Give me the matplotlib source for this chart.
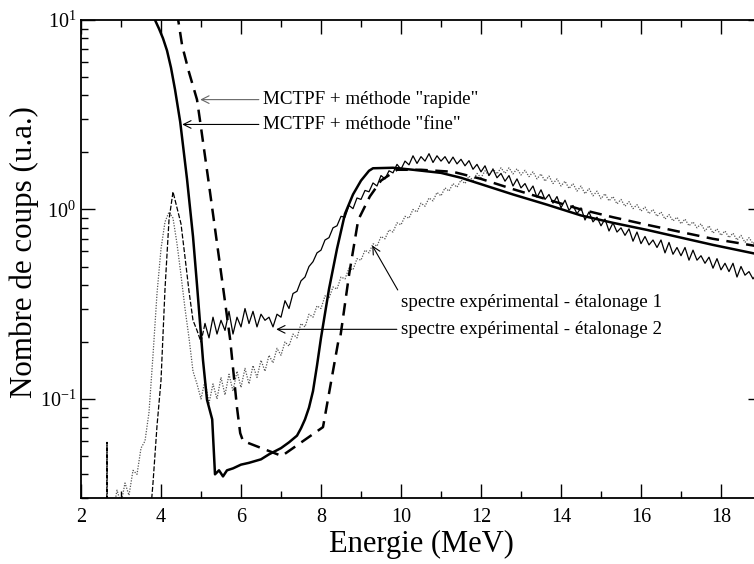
import numpy as np
import matplotlib
matplotlib.use("Agg")
import matplotlib.pyplot as plt

plt.rcParams['font.family'] = ['Liberation Serif', 'DejaVu Serif']
plt.rcParams['mathtext.fontset'] = 'stix'

# ---- data ----
fine_x = [3.80, 3.85, 3.95, 4.05, 4.15, 4.25, 4.35, 4.48, 4.65, 4.8, 4.9, 5.05, 5.15, 5.28, 5.35,
          5.45, 5.55, 5.65, 5.8, 6.0, 6.2, 6.5, 6.7, 7.0, 7.2, 7.4, 7.5, 7.6, 7.7, 7.8, 7.9, 8.0,
          8.2, 8.4, 8.6, 8.8, 9.0, 9.2, 9.3, 9.8, 10.3, 11.0, 11.5, 12.0, 12.8, 13.65, 14.5, 15.3,
          16.15, 17.0, 17.8, 19.1]
fine_y = [11.0, 10.0, 9.0, 8.0, 6.9, 5.6, 4.3, 2.9, 1.45, 0.72, 0.40, 0.16, 0.099, 0.078, 0.040,
          0.042, 0.039, 0.042, 0.043, 0.045, 0.046, 0.048, 0.051, 0.055, 0.059, 0.064, 0.070,
          0.078, 0.090, 0.11, 0.15, 0.21, 0.38, 0.62, 0.95, 1.2, 1.42, 1.6, 1.65, 1.66, 1.62,
          1.56, 1.47, 1.36, 1.2, 1.06, 0.93, 0.85, 0.78, 0.71, 0.65, 0.57]

rapide_x = [4.40, 4.43, 4.53, 4.7, 4.9, 4.98, 5.18, 5.55, 5.73, 5.9, 5.98, 6.05, 7.02, 8.05, 8.43,
            8.48, 8.7, 8.93, 9.22, 9.5, 9.9, 10.5, 11.3, 12.0, 12.8, 13.65, 14.5, 15.3, 16.15,
            17.0, 17.8, 19.1]
rapide_y = [11.0, 10.0, 7.3, 5.3, 3.8, 2.9, 1.45, 0.39, 0.205, 0.09, 0.066, 0.060, 0.050, 0.071,
            0.20, 0.21, 0.45, 0.88, 1.17, 1.42, 1.62, 1.62, 1.58, 1.45, 1.28, 1.13, 1.0, 0.91,
            0.83, 0.76, 0.70, 0.63]

# experimental spectrum, calibration 2 (black) - low energy part then 0.1 MeV channels
exp2_low_x = [2.60, 2.645, 2.65, 2.655, 2.70, 3.0, 3.3, 3.6]
exp2_low_y = [0.02, 0.02, 0.059, 0.02, 0.02, 0.02, 0.02, 0.02]
exp2_start, exp2_step = 3.7, 0.1
exp2_y = [0.020, 0.036, 0.072, 0.125, 0.38, 0.88, 1.24, 1.02, 0.84, 0.56,
          0.37, 0.26, 0.23, 0.20, 0.25, 0.21, 0.27, 0.22, 0.26, 0.23,
          0.29, 0.22, 0.27, 0.24, 0.30, 0.25, 0.29, 0.24, 0.28, 0.26,
          0.27, 0.24, 0.28, 0.27, 0.33, 0.30, 0.36, 0.37, 0.42, 0.44,
          0.50, 0.53, 0.59, 0.61, 0.69, 0.71, 0.80, 0.82, 0.92, 0.91,
          1.05, 1.01, 1.15, 1.13, 1.26, 1.24, 1.38, 1.33, 1.51, 1.45,
          1.60, 1.56, 1.73, 1.63, 1.80, 1.72, 1.92, 1.75, 1.90, 1.80,
          1.97, 1.77, 1.92, 1.80, 1.90, 1.75, 1.89, 1.74, 1.84, 1.70,
          1.81, 1.63, 1.73, 1.58, 1.70, 1.51, 1.63, 1.47, 1.55, 1.41,
          1.51, 1.33, 1.45, 1.30, 1.37, 1.24, 1.33, 1.16, 1.27, 1.13,
          1.20, 1.08, 1.17, 1.02, 1.12, 0.99, 1.05, 0.95, 1.02, 0.88,
          0.97, 0.86, 0.91, 0.82, 0.89, 0.77, 0.85, 0.76, 0.80, 0.73,
          0.79, 0.68, 0.76, 0.66, 0.72, 0.65, 0.69, 0.63, 0.69, 0.59,
          0.67, 0.58, 0.63, 0.57, 0.63, 0.54, 0.61, 0.54, 0.57, 0.52,
          0.56, 0.49, 0.55, 0.48, 0.52, 0.47, 0.52, 0.44, 0.50, 0.45,
          0.47, 0.43, 0.46, 0.42]

# experimental spectrum, calibration 1 (grey dotted), 0.1 MeV channels
exp1_start, exp1_step = 2.8, 0.1
exp1_y = [0.025, 0.033, 0.028, 0.036, 0.031, 0.042, 0.040, 0.055, 0.060, 0.085,
          0.17, 0.36, 0.62, 0.86, 0.97, 0.90, 0.66, 0.45, 0.30, 0.21,
          0.14, 0.12, 0.10, 0.125, 0.095, 0.12, 0.10, 0.13, 0.105, 0.135,
          0.11, 0.14, 0.115, 0.145, 0.12, 0.15, 0.13, 0.16, 0.14, 0.17,
          0.155, 0.185, 0.17, 0.20, 0.19, 0.22, 0.21, 0.25, 0.24, 0.28,
          0.27, 0.31, 0.30, 0.35, 0.34, 0.39, 0.38, 0.44, 0.43, 0.49,
          0.48, 0.55, 0.54, 0.61, 0.59, 0.66, 0.64, 0.72, 0.70, 0.78,
          0.76, 0.85, 0.83, 0.92, 0.90, 1.00, 0.97, 1.08, 1.04, 1.15,
          1.11, 1.23, 1.18, 1.30, 1.25, 1.37, 1.31, 1.43, 1.37, 1.50,
          1.42, 1.55, 1.47, 1.60, 1.51, 1.64, 1.54, 1.66, 1.55, 1.66,
          1.54, 1.64, 1.52, 1.61, 1.49, 1.58, 1.45, 1.54, 1.41, 1.50,
          1.37, 1.45, 1.33, 1.41, 1.29, 1.37, 1.25, 1.33, 1.21, 1.29,
          1.18, 1.25, 1.14, 1.21, 1.11, 1.17, 1.07, 1.13, 1.04, 1.10,
          1.01, 1.06, 0.98, 1.03, 0.95, 1.00, 0.92, 0.97, 0.89, 0.94,
          0.87, 0.91, 0.84, 0.89, 0.82, 0.86, 0.80, 0.84, 0.77, 0.82,
          0.75, 0.79, 0.73, 0.77, 0.71, 0.75, 0.69, 0.73, 0.67, 0.71,
          0.66, 0.69, 0.65]

x_ticks = [2, 4, 6, 8, 10, 12, 14, 16, 18]

exp2_x_main = exp2_start + exp2_step * np.arange(len(exp2_y))
exp2_x = np.concatenate([exp2_low_x, exp2_x_main])
exp2_all = np.concatenate([exp2_low_y, exp2_y])
exp1_x = exp1_start + exp1_step * np.arange(len(exp1_y))
split = len(exp2_low_x) + 14  # steep low-energy part drawn dashed, noisy rest dense

# ---- figure ----
fig = plt.figure(figsize=(7.54, 5.64), dpi=100)
ax = fig.add_axes([81 / 754, 66 / 564, 681 / 754, 478 / 564])

ax.plot(exp1_x, exp1_y, color='#555555', lw=0.9, linestyle=(0, (1, 1.2)))
ax.plot(exp2_x[:split + 1], exp2_all[:split + 1], color='black', lw=0.9, linestyle=(0, (4, 1.5)))
ax.plot(exp2_x[split:], exp2_all[split:], color='black', lw=0.9, linestyle='-')
ax.plot(fine_x, fine_y, color='black', lw=1.8, linestyle='-')
ax.plot(rapide_x, rapide_y, color='black', lw=1.8, linestyle=(0, (5, 3)))

ax.set_yscale('log')
ax.set_xlim(2, 2 + 681 / 40)
ax.set_ylim(0.03, 10)
ax.set_xticks(x_ticks)
ax.set_xticks(np.arange(3, 19, 2), minor=True)
ax.tick_params(which='both', direction='in', top=True, right=True, labelsize=14.5, width=1)
ax.tick_params(which='major', length=10)
ax.tick_params(which='minor', length=5)
ax.tick_params(axis='x', which='major', pad=7)
for s in ax.spines.values():
    s.set_linewidth(1.3)

ax.set_xlabel('Energie (MeV)', fontsize=22, va='center')
ax.xaxis.set_label_coords(0.5, -0.098)
ax.set_ylabel('Nombre de coups (u.a.)', fontsize=22.3, va='center')
ax.yaxis.set_label_coords(-0.084, 0.515)

arrow_kw = dict(arrowstyle='->', lw=0.8, shrinkA=1, shrinkB=0)
fs = 13.7
ax.annotate('MCTPF + méthode "rapide"', xy=(4.98, 3.8), xytext=(6.55, 3.8), fontsize=fs,
            va='center', ha='left', arrowprops=dict(color='#666666', relpos=(0, 0.5), **arrow_kw))
ax.annotate('MCTPF + méthode "fine"', xy=(4.53, 2.81), xytext=(6.55, 2.81), fontsize=fs,
            va='center', ha='left', arrowprops=dict(color='black', relpos=(0, 0.5), **arrow_kw))
ax.annotate('spectre expérimental - étalonage 1', xy=(9.28, 0.646), xytext=(10.0, 0.323),
            fontsize=fs, va='center', ha='left',
            arrowprops=dict(color='black', relpos=(0, 0.9), **arrow_kw))
ax.annotate('spectre expérimental - étalonage 2', xy=(6.88, 0.233), xytext=(10.0, 0.233),
            fontsize=fs, va='center', ha='left',
            arrowprops=dict(color='black', relpos=(0, 0.5), **arrow_kw))

fig.savefig('out.png', dpi=100)
